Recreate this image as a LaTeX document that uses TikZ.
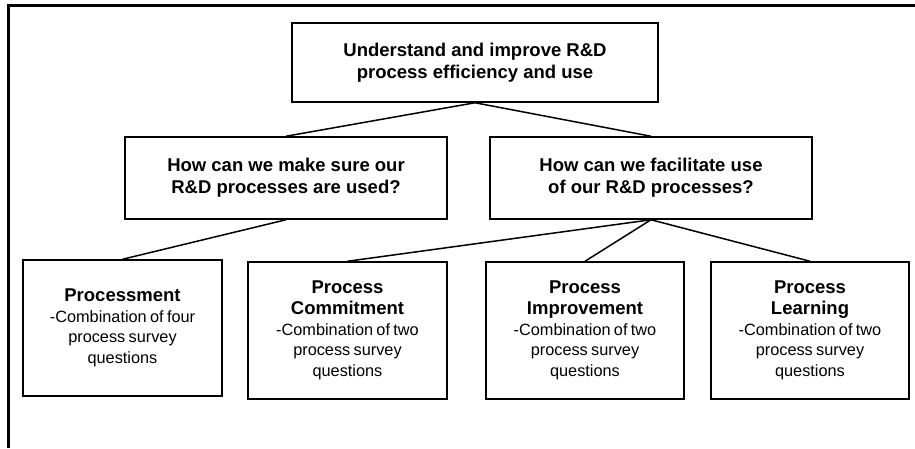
\documentclass[tikz,border=0pt]{standalone}
\usepackage{fontspec}
\setmainfont{Liberation Sans}
\newcommand{\hdfont}{\fontsize{18.5}{22}\selectfont\bfseries}
\newcommand{\lhfont}{\fontsize{18.5}{21}\selectfont\bfseries}
\newcommand{\bdfont}{\fontsize{16.3}{20.5}\selectfont\mdseries}
\begin{document}
\begin{tikzpicture}[x=1pt,y=-1pt,
  qbox/.style={draw=black,line width=1.5pt,fill=white,align=center,inner sep=0pt,
    font=\hdfont,minimum height=80pt},
  leafbox/.style={draw=black,line width=1.5pt,fill=white,align=center,inner sep=0pt,
    text width=190pt,minimum width=198pt,minimum height=137pt},
  link/.style={draw=black,line width=1.5pt}]
\useasboundingbox (0,0) rectangle (915,448);
\draw[line width=3pt,line join=miter] (915,5.5) -- (8.5,5.5) -- (8.5,448);

\node[qbox,minimum width=366pt,minimum height=79pt] (top) at (475,62.5)
  {Understand and improve R\&D\\process efficiency and use};
\node[qbox,minimum width=322pt,minimum height=82pt] (ml) at (286,178)
  {How can we make sure our\\R\&D processes are used?};
\node[qbox,minimum width=322pt,minimum height=82pt] (mr) at (651,178)
  {How can we facilitate use\\of our R\&D processes?};

\node[leafbox,minimum width=199pt,minimum height=136pt] (b1) at (122.5,328)
  {\lhfont Processment\\
   \bdfont -Combination of four\\process survey\\questions\par};
\node[leafbox,minimum width=199pt] (b2) at (347.5,330.5)
  {\lhfont Process\\Commitment\\
   \bdfont -Combination of two\\process survey\\questions\par};
\node[leafbox] (b3) at (585,330.5)
  {\lhfont Process\\Improvement\\
   \bdfont -Combination of two\\process survey\\questions\par};
\node[leafbox] (b4) at (810,330.5)
  {\lhfont Process\\Learning\\
   \bdfont -Combination of two\\process survey\\questions\par};

\path[link] (top.south) -- (ml.north);
\path[link] (top.south) -- (mr.north);
\path[link] (ml.south) -- (b1.north);
\path[link] (mr.south) -- (b2.north);
\path[link] (mr.south) -- (b3.north);
\path[link] (mr.south) -- (b4.north);
\end{tikzpicture}
\end{document}
